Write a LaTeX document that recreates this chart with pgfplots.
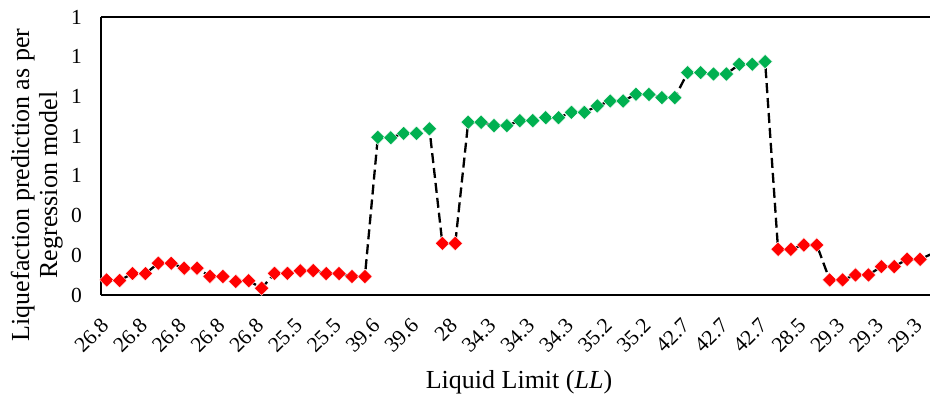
\documentclass[border=0pt]{standalone}
\usepackage{pgfplots}
\pgfplotsset{compat=1.18}
\usepackage{pgfplotstable}
\usepackage{fontspec}
\setmainfont{Liberation Serif}
\definecolor{exred}{RGB}{255,0,0}
\definecolor{exgreen}{RGB}{0,176,80}

\pgfplotstableread{
x y c
0 0.076 0
1 0.073 0
2 0.108 0
3 0.108 0
4 0.160 0
5 0.160 0
6 0.135 0
7 0.135 0
8 0.094 0
9 0.093 0
10 0.068 0
11 0.072 0
12 0.034 0
13 0.109 0
14 0.109 0
15 0.122 0
16 0.123 0
17 0.108 0
18 0.108 0
19 0.093 0
20 0.093 0
21 0.794 1
22 0.792 1
23 0.814 1
24 0.814 1
25 0.837 1
26 0.260 0
27 0.260 0
28 0.870 1
29 0.870 1
30 0.853 1
31 0.853 1
32 0.878 1
33 0.878 1
34 0.893 1
35 0.893 1
36 0.920 1
37 0.920 1
38 0.952 1
39 0.977 1
40 0.977 1
41 1.011 1
42 1.010 1
43 0.994 1
44 0.994 1
45 1.120 1
46 1.120 1
47 1.113 1
48 1.113 1
49 1.162 1
50 1.162 1
51 1.175 1
52 0.230 0
53 0.230 0
54 0.252 0
55 0.252 0
56 0.076 0
57 0.076 0
58 0.101 0
59 0.101 0
60 0.143 0
61 0.143 0
62 0.180 0
63 0.180 0
64 0.210 0
}\data

\begin{document}
\begin{tikzpicture}
\useasboundingbox (-101pt,-104pt) rectangle (829pt,295pt);
\begin{axis}[
  at={(0pt,0pt)}, anchor=south west,
  scale only axis,
  width=829pt, height=278pt,
  xmin=-0.44, xmax=63.77,
  ymin=0, ymax=1.4,
  axis x line*=box, axis y line*=left,
  axis line style={black, line width=1.8pt},
  major tick length=0pt,
  xtick={0,3,...,63},
  xticklabels={26.8,26.8,26.8,26.8,26.8,25.5,25.5,39.6,39.6,28,34.3,34.3,34.3,35.2,35.2,42.7,42.7,42.7,28.5,29.3,29.3,29.3},
  ytick={0,0.2,0.4,0.6,0.8,1,1.2,1.4},
  yticklabels={0,0,0,1,1,1,1,1},
  tick label style={font=\fontsize{21.5}{25}\selectfont},
  xticklabel style={xshift=-1.7pt, yshift=-27pt, rotate=45, anchor=east, inner sep=0pt},
  yticklabel style={anchor=east, inner sep=0pt, xshift=-19pt},
]
\addplot[black, line width=2.3pt, dash pattern=on 10pt off 5pt] table[x=x,y=y]{\data};
\addplot[only marks, mark=square*, mark size=5.1pt,
  mark options={rotate=45, fill=exred, draw=white, line width=0.4pt},
  restrict expr to domain={\thisrow{c}}{0:0}] table[x=x,y=y]{\data};
\addplot[only marks, mark=square*, mark size=5.1pt,
  mark options={rotate=45, fill=exgreen, draw=white, line width=0.4pt},
  restrict expr to domain={\thisrow{c}}{1:1}] table[x=x,y=y]{\data};
\end{axis}
\node[rotate=90, align=center, font=\fontsize{26}{28}\selectfont] at (-64.3pt,110pt) {Liquefaction prediction as per\\Regression model};
\node[anchor=base, font=\fontsize{26}{28}\selectfont] at (418pt,-93pt) {Liquid Limit (\textit{LL})};
\end{tikzpicture}
\end{document}
